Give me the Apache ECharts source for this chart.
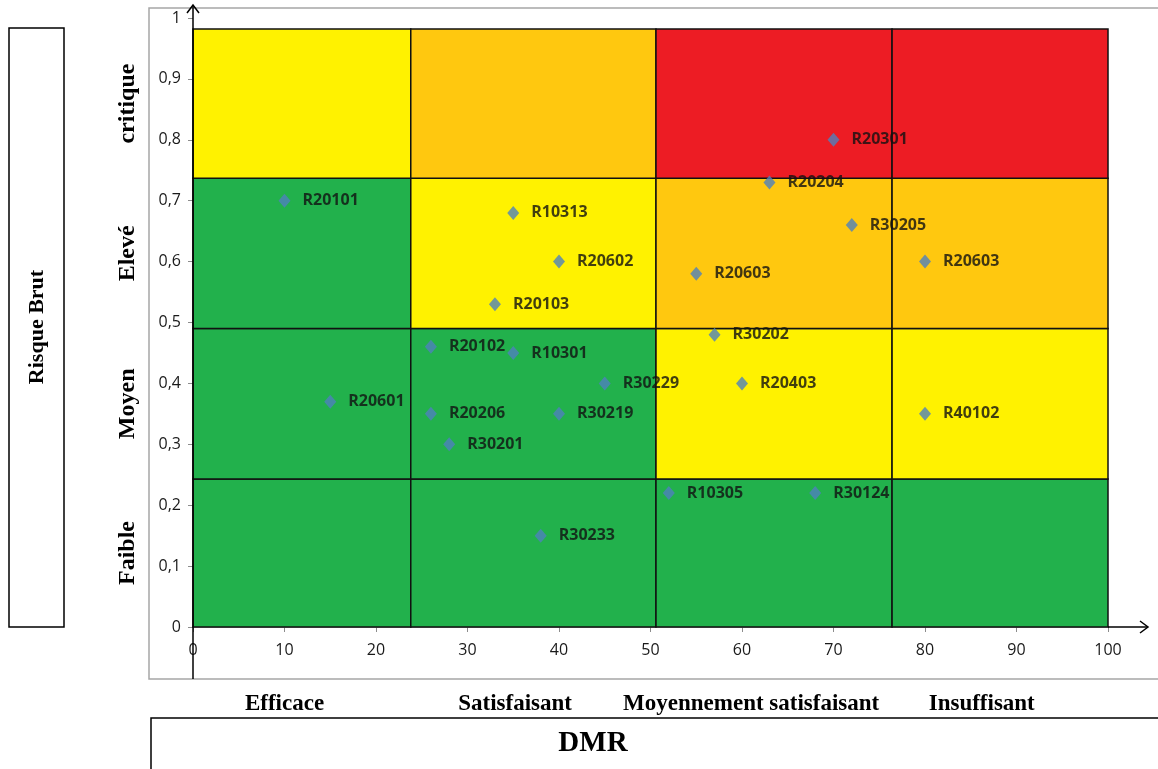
<!DOCTYPE html>
<html>
<head>
<meta charset="utf-8">
<script src="https://cdn.jsdelivr.net/npm/echarts@6/dist/echarts.min.js"></script>
<style>
  html, body { margin: 0; padding: 0; background: #fff; }
  #riskMatrix { width: 1158px; height: 769px; }
</style>
</head>
<body>
<div id="riskMatrix"></div>
<script>
// bornes des zones (DMR en x, risque brut en y)
const xBands = [0, 23.8, 50.6, 76.4, 100];
const yBands = [0, 0.243, 0.49, 0.737, 0.982];
// couleurs par ligne, du bas vers le haut
const zoneColors = [
  ['#22B14C', '#22B14C', '#22B14C', '#22B14C'],
  ['#22B14C', '#22B14C', '#FFF200', '#FFF200'],
  ['#22B14C', '#FFF200', '#FFC80F', '#FFC80F'],
  ['#FFF200', '#FFC80F', '#ED1C24', '#ED1C24']
];
const riskLevels = ['Faible', 'Moyen', 'Elevé', 'critique'];
const controlLevels = ['Efficace', 'Satisfaisant', 'Moyennement satisfaisant', 'Insuffisant'];
const controlLabelX = [10, 35.2, 61, 86.2];

const pointNames = ['R20101', 'R20301', 'R20204', 'R10313', 'R30205', 'R20602', 'R20603', 'R20603',
  'R20103', 'R30202', 'R20102', 'R10301', 'R30229', 'R20403', 'R20601', 'R20206', 'R30219',
  'R40102', 'R30201', 'R10305', 'R30124', 'R30233'];
const pointX = [10, 70, 63, 35, 72, 40, 55, 80, 33, 57, 26, 35, 45, 60, 15, 26, 40, 80, 28, 52, 68, 38];
const pointY = [0.70, 0.80, 0.73, 0.68, 0.66, 0.60, 0.58, 0.60, 0.53, 0.48, 0.46, 0.45, 0.40, 0.40,
  0.37, 0.35, 0.35, 0.35, 0.30, 0.22, 0.22, 0.15];

let cells = [];
let cellColors = [];
for (let r = 0; r < 4; r++) {
  for (let c = 0; c < 4; c++) {
    cells.push([xBands[c], xBands[c + 1], yBands[r], yBands[r + 1]]);
    cellColors.push(zoneColors[r][c]);
  }
}

let myChart = echarts.init(document.getElementById('riskMatrix'));
const tickFont = { color: '#1a1a1a', fontFamily: 'Open Sans', fontSize: 16 };
const serif = '"Liberation Serif", "DejaVu Serif", serif';

myChart.setOption({
  animation: false,
  grid: { left: 193, right: 50, top: 18, bottom: 142 },
  xAxis: {
    type: 'value', min: 0, max: 100, interval: 10,
    axisLine: { show: true, lineStyle: { color: '#8c8c8c', width: 1.5 } },
    axisTick: { show: true, length: 5, lineStyle: { color: '#8c8c8c' } },
    splitLine: { show: false },
    axisLabel: Object.assign({ margin: 15 }, tickFont)
  },
  yAxis: {
    type: 'value', min: 0, max: 1, interval: 0.1,
    axisLine: { show: false },
    axisTick: { show: true, length: 5, lineStyle: { color: '#8c8c8c' } },
    splitLine: { show: false },
    axisLabel: Object.assign({
      margin: 12,
      formatter: function (v) {
        return String(Math.round(v * 10) / 10).replace('.', ',');
      }
    }, tickFont)
  },
  series: [
    {
      type: 'custom',
      silent: true,
      z: 1,
      data: cells,
      encode: { x: [0, 1], y: [2, 3] },
      renderItem: function (params, api) {
        let p0 = api.coord([api.value(0), api.value(3)]);
        let p1 = api.coord([api.value(1), api.value(2)]);
        return {
          type: 'rect',
          shape: { x: p0[0], y: p0[1], width: p1[0] - p0[0], height: p1[1] - p0[1] },
          style: { fill: cellColors[params.dataIndex], stroke: '#111', lineWidth: 1.5 }
        };
      }
    },
    {
      type: 'scatter',
      z: 5,
      symbol: 'diamond',
      symbolSize: [12, 14],
      itemStyle: { color: '#4F81BD' },
      data: pointNames.map((n, i) => ({ name: n, value: [pointX[i], pointY[i]] })),
      label: {
        show: true,
        position: 'right',
        distance: 12,
        formatter: '{b}',
        color: '#111',
        fontFamily: 'Open Sans',
        fontWeight: 'bold',
        fontSize: 16
      }
    }
  ]
});

// axes fléchés, cadres et libellés des niveaux
let origin = myChart.convertToPixel({ gridIndex: 0 }, [0, 0]);
let yTop = myChart.convertToPixel({ gridIndex: 0 }, [0, 1]);
let xEnd = myChart.convertToPixel({ gridIndex: 0 }, [100, 0]);
let graphics = [
  { type: 'rect', z: 0, shape: { x: 149, y: 8, width: 1100, height: 671 },
    style: { fill: 'none', stroke: '#a6a6a6', lineWidth: 1.5 } },
  { type: 'line', z: 10, shape: { x1: origin[0], y1: 679, x2: origin[0], y2: yTop[1] - 13 },
    style: { stroke: '#000', lineWidth: 1.5 } },
  { type: 'polyline', z: 10, shape: { points: [[origin[0] - 6, yTop[1] - 5], [origin[0], yTop[1] - 13], [origin[0] + 6, yTop[1] - 5]] },
    style: { stroke: '#000', lineWidth: 1.5, fill: 'none' } },
  { type: 'line', z: 10, shape: { x1: xEnd[0], y1: origin[1], x2: xEnd[0] + 40, y2: origin[1] },
    style: { stroke: '#000', lineWidth: 1.5 } },
  { type: 'polyline', z: 10, shape: { points: [[xEnd[0] + 32, origin[1] - 6], [xEnd[0] + 40, origin[1]], [xEnd[0] + 32, origin[1] + 6]] },
    style: { stroke: '#000', lineWidth: 1.5, fill: 'none' } },
  { type: 'rect', shape: { x: 9, y: 28, width: 55, height: 599 },
    style: { fill: 'none', stroke: '#000', lineWidth: 1.5 } },
  { type: 'text', x: 37, y: 327, rotation: Math.PI / 2,
    style: { text: 'Risque Brut', fill: '#000', font: 'bold 22px ' + serif, align: 'center', verticalAlign: 'middle' } },
  { type: 'rect', shape: { x: 151, y: 718, width: 1100, height: 100 },
    style: { fill: 'none', stroke: '#000', lineWidth: 1.5 } },
  { type: 'text', x: 593, y: 744,
    style: { text: 'DMR', fill: '#000', font: 'bold 29px ' + serif, align: 'center', verticalAlign: 'middle' } }
];
riskLevels.forEach((name, i) => {
  let p = myChart.convertToPixel({ gridIndex: 0 }, [0, (yBands[i] + yBands[i + 1]) / 2]);
  graphics.push({ type: 'text', x: 128, y: p[1], rotation: Math.PI / 2,
    style: { text: name, fill: '#000', font: 'bold 24px ' + serif, align: 'center', verticalAlign: 'middle' } });
});
controlLevels.forEach((name, i) => {
  let p = myChart.convertToPixel({ gridIndex: 0 }, [controlLabelX[i], 0]);
  graphics.push({ type: 'text', x: p[0], y: 704,
    style: { text: name, fill: '#000', font: 'bold 23px ' + serif, align: 'center', verticalAlign: 'middle' } });
});
myChart.setOption({ graphic: graphics });
</script>
</body>
</html>
